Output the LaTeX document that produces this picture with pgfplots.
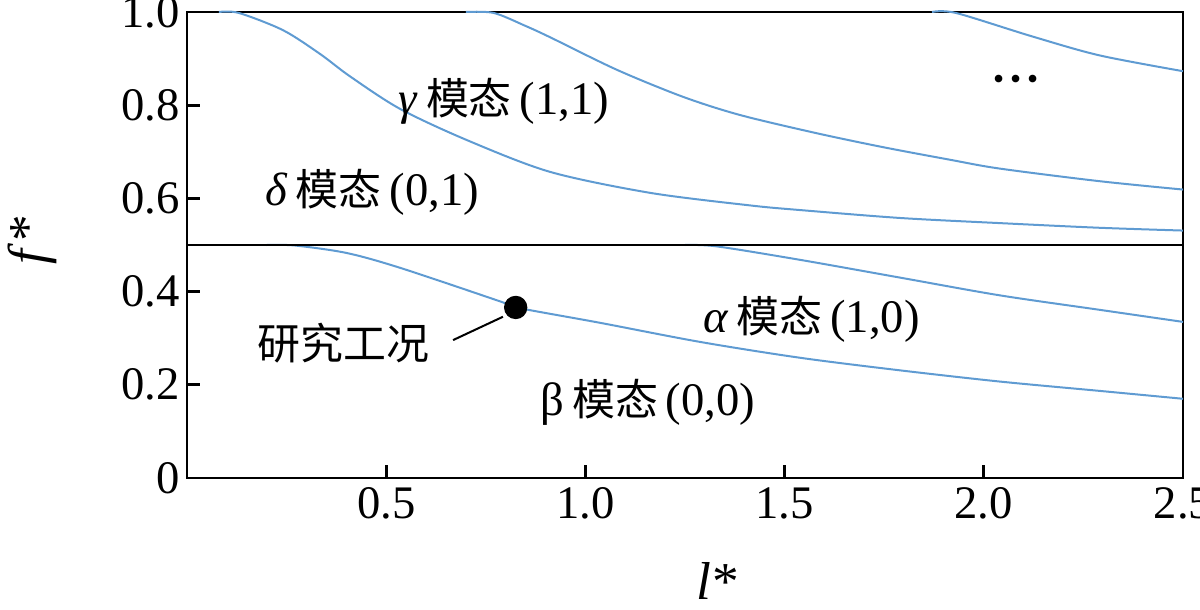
\documentclass[border=0pt]{standalone}
\usepackage{pgfplots}
\pgfplotsset{compat=1.18}
\usepackage{fontspec}
\setmainfont{Liberation Serif}
\newfontfamily\cjk[Scale=0.92]{Noto Sans CJK SC}
\definecolor{curve}{RGB}{95,155,210}
\begin{document}
\fontsize{14}{17}\selectfont
\begin{tikzpicture}
\useasboundingbox (-56.1pt,-39.3pt) rectangle (303.9pt,143.4pt);
\begin{axis}[
  at={(0,0)}, anchor=south west,
  scale only axis, width=298.8pt, height=139.8pt,
  xmin=0, xmax=2.5, ymin=0, ymax=1,
  axis line style={line width=0.8pt},
  tick align=inside, major tick length=4pt,
  tick style={black, line width=0.8pt},
  tick pos=left,
  xtick={0.5,1,1.5,2,2.5}, xticklabels={0.5,1.0,1.5,2.0,2.5},
  ytick={0,0.2,0.4,0.6,0.8,1}, yticklabels={0,0.2,0.4,0.6,0.8,1.0},
  xticklabel style={inner sep=0pt, yshift=-2.7pt},
  yticklabel style={inner sep=0pt, xshift=-2pt},
  clip=false,
]
% delta mode (0,1)
\addplot[curve, line width=0.6pt, smooth] coordinates {
(0.08,1.0)(0.13,0.998)(0.241,0.961)(0.334,0.910)(0.409,0.862)(0.535,0.792)
(0.703,0.725)(0.911,0.657)(1.162,0.612)(1.413,0.585)(1.539,0.575)(1.79,0.558)
(2.04,0.547)(2.29,0.537)(2.5,0.531)};
% gamma mode (1,1)
\addplot[curve, line width=0.6pt, smooth] coordinates {
(0.70,1.0)(0.77,0.998)(0.85,0.970)(0.911,0.946)(1.079,0.876)(1.245,0.818)
(1.388,0.779)(1.58,0.740)(1.747,0.710)(1.915,0.683)(2.04,0.664)(2.29,0.637)(2.5,0.619)};
% higher mode
\addplot[curve, line width=0.6pt, smooth] coordinates {
(1.87,1.0)(1.93,0.998)(2.12,0.948)(2.29,0.907)(2.5,0.873)};
% alpha mode (1,0)
\addplot[curve, line width=0.6pt, smooth] coordinates {
(1.25,0.5)(1.33,0.497)(1.54,0.468)(1.79,0.430)(2.04,0.392)(2.29,0.361)(2.5,0.335)};
% beta mode (0,0)
\addplot[curve, line width=0.6pt, smooth] coordinates {
(0.20,0.5)(0.27,0.499)(0.40,0.483)(0.535,0.451)(0.786,0.379)(0.826,0.366)
(1.037,0.333)(1.288,0.292)(1.539,0.258)(1.79,0.231)(2.04,0.207)(2.29,0.187)(2.5,0.170)};
% separator line
\addplot[black, line width=0.7pt] coordinates {(0,0.5)(2.5,0.5)};
% leader line and study point
\addplot[black, line width=0.6pt] coordinates {(0.668,0.296)(0.793,0.346)};
\addplot[only marks, mark=*, mark size=3.3pt, black] coordinates {(0.825,0.366)};
% labels
\node[anchor=west, inner sep=0pt] at (axis cs:0.530,0.808) {\textit{γ}\,{\cjk 模态}\,(1,1)};
\node[anchor=west, inner sep=0pt] at (axis cs:0.196,0.614) {\textit{δ}\,{\cjk 模态}\,(0,1)};
\node[anchor=west, inner sep=0pt] at (axis cs:1.295,0.341) {\textit{α}\,{\cjk 模态}\,(1,0)};
\node[anchor=west, inner sep=0pt] at (axis cs:0.886,0.163) {β\,{\cjk 模态}\,(0,0)};
\node[anchor=west, inner sep=0pt] at (axis cs:0.176,0.290) {{\cjk 研究工况}};
\node[anchor=center, inner sep=0pt] at (axis cs:2.08,0.850) {\fontsize{9.5}{10}\selectfont\textbullet\hspace{1.8pt}\textbullet\hspace{1.8pt}\textbullet};
\node[anchor=center, inner sep=0pt] at (axis cs:1.333,0) [yshift=-31pt] {\fontsize{16}{18}\selectfont\textit{l}\kern0.5pt*};
\node[anchor=center, inner sep=0pt, xshift=-46.5pt, rotate=90] at (axis cs:0,0.511) {\fontsize{16}{18}\selectfont\textit{f}\kern0.5pt*};
\end{axis}
\end{tikzpicture}
\end{document}
